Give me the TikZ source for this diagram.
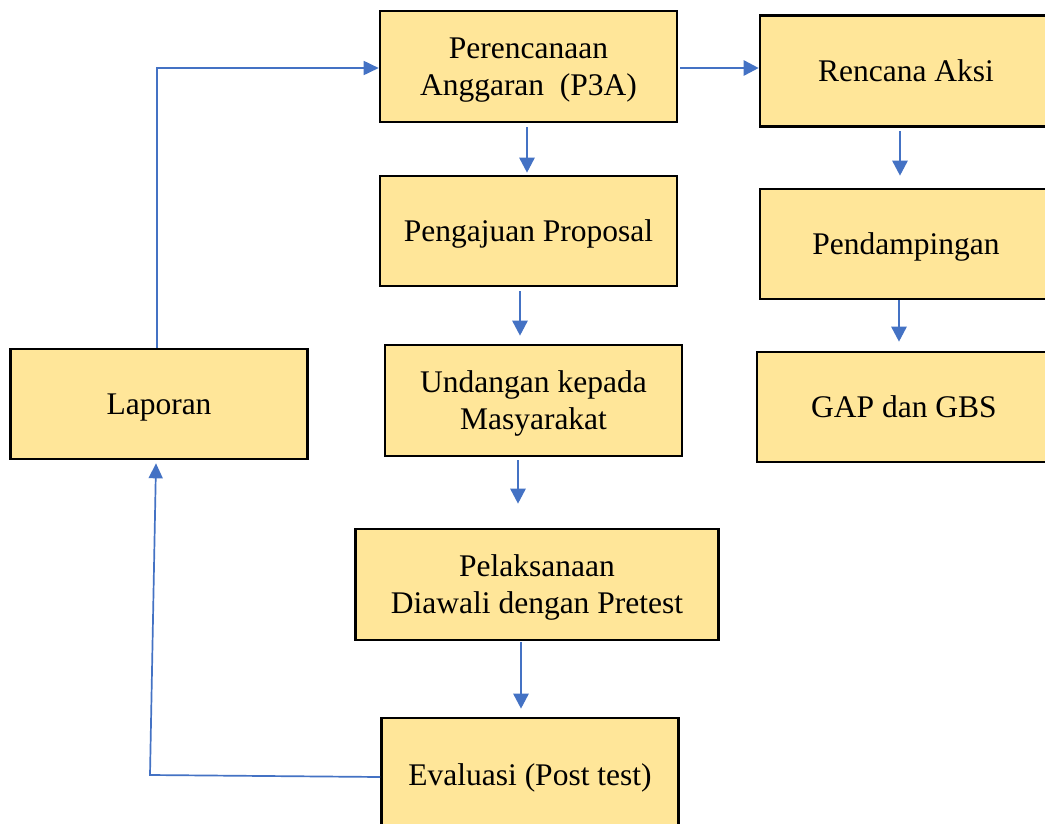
\documentclass[tikz,border=0pt]{standalone}
\usepackage{fontspec}
\setmainfont{Liberation Serif}
\usetikzlibrary{arrows.meta}
\definecolor{boxfill}{HTML}{FFE699}
\definecolor{arrblue}{HTML}{4472C4}
\newcommand\lnstrut{\rule[-8pt]{0pt}{37pt}}
\begin{document}
\begin{tikzpicture}[x=1pt,y=-1pt,
  box/.style={draw=black, line width=2.6pt, fill=boxfill, rectangle, align=center,
    inner sep=0pt, font=\fontsize{31.5}{37}\selectfont},
  arr/.style={draw=arrblue, line width=2.6pt, -{Triangle[length=15pt,width=15pt]}},
  looparr/.style={draw=arrblue, line width=1.7pt, -{Triangle[length=15pt,width=14pt]}}]
\useasboundingbox (0,0) rectangle (1045,823);
\clip (0,0) rectangle (1045,823);
\fill[white] (0,0) rectangle (1045,823);

\node[box, minimum width=297pt, minimum height=111pt] (plan) at (528.5,66.5) {\lnstrut Perencanaan\\\lnstrut Anggaran~ (P3A)};
\node[box, minimum width=292pt, minimum height=111pt] (rencana) at (906,71) {\lnstrut Rencana Aksi};
\node[box, minimum width=297pt, minimum height=110pt] (proposal) at (528.5,231) {\lnstrut Pengajuan Proposal};
\node[box, minimum width=292pt, minimum height=110pt] (pend) at (906,244) {\lnstrut Pendampingan};
\node[box, minimum width=297pt, minimum height=111pt] (undangan) at (533.5,400.5) {\lnstrut Undangan kepada\\\lnstrut Masyarakat};
\node[box, minimum width=294pt, minimum height=110pt] (gap) at (904,407) {\lnstrut GAP dan GBS};
\node[box, minimum width=297pt, minimum height=110pt] (laporan) at (159,404) {\lnstrut Laporan};
\node[box, minimum width=363pt, minimum height=111pt] (pelaks) at (537,584.5) {\lnstrut Pelaksanaan\\\lnstrut Diawali dengan Pretest};
\node[box, minimum width=297pt, minimum height=114pt] (eval) at (530,775) {\lnstrut Evaluasi (Post test)};

\coordinate (c1) at (157,68);
\coordinate (c2) at (150,775);

% main vertical arrows
\draw[arr] ([yshift=-4pt]plan.south -| 527,0) -- ([yshift=2pt]proposal.north -| 527,0);
\draw[arr] ([yshift=-3pt]rencana.south -| 900,0) -- ([yshift=12pt]pend.north -| 900,0);
\draw[arr] ([yshift=-4pt]proposal.south -| 520,0) -- ([yshift=8pt]undangan.north -| 520,0);
\draw[arr] (pend.south -| 899,0) -- ([yshift=9pt]gap.north -| 899,0);
\draw[arr] ([yshift=-3pt]undangan.south -| 518,0) -- ([yshift=24pt]pelaks.north -| 518,0);
\draw[arr] ([yshift=-1pt]pelaks.south -| 521,0) -- ([yshift=8pt]eval.north -| 521,0);

% horizontal arrow
\draw[arr] ([xshift=2pt]plan.east |- 0,68) -- (rencana.west |- 0,68);

% loop
\draw[looparr] (laporan.north -| 157,0) -- (c1) -- (plan.west |- 0,68);
\draw[looparr] (eval.west |- 0,777) -- (c2) -- ([yshift=-3pt]laporan.south -| 156,0);
\end{tikzpicture}
\end{document}
